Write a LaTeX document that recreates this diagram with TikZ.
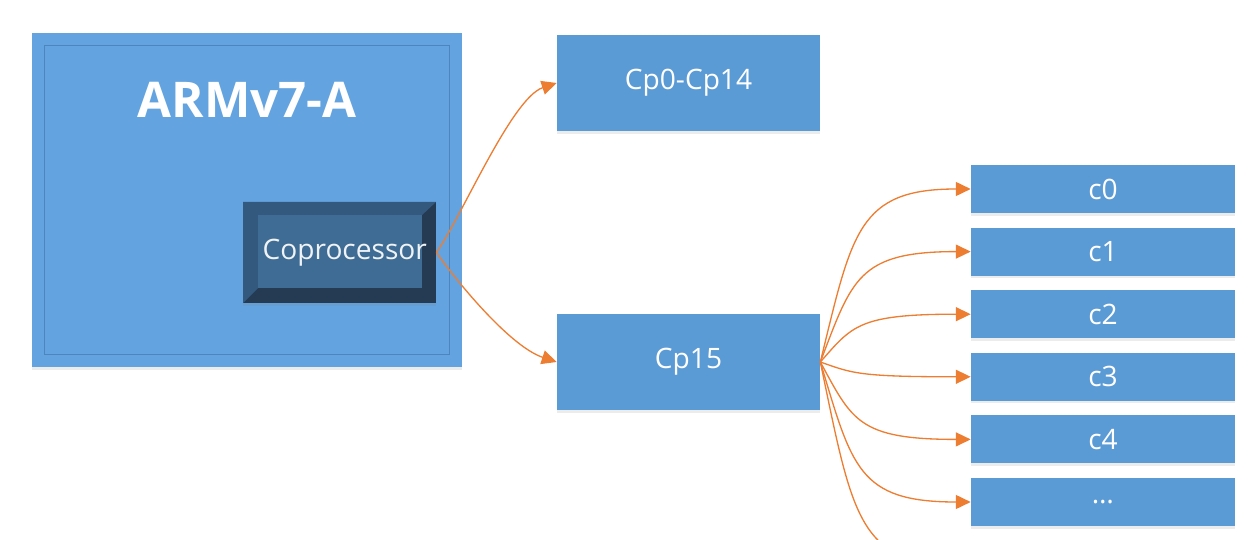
\documentclass[tikz,border=0pt]{standalone}
\usepackage{fontspec}
\setmainfont{Open Sans}
\usetikzlibrary{arrows.meta,calc,shadows}

\definecolor{armblue}{HTML}{63A4E0}
\definecolor{armedge}{HTML}{4C86BD}
\definecolor{regblue}{HTML}{5B9BD5}
\definecolor{linkorange}{HTML}{ED7D31}
\definecolor{bevelface}{HTML}{3F6C94}
\definecolor{bevellight}{HTML}{34597F}
\definecolor{beveldark}{HTML}{243B53}

\begin{document}
\begin{tikzpicture}[x=0.02cm,y=-0.02cm]
  \tikzset{>={Triangle[length=8.5pt,width=8pt]}}
  \tikzset{
    softshadow/.style={drop shadow={opacity=.15,shadow xshift=0pt,shadow yshift=-1.5pt}},
    regbox/.style={rectangle,fill=regblue,text=white,inner sep=0pt,
      minimum width=5.26cm,minimum height=1.92cm,
      font=\fontsize{16}{19}\selectfont,softshadow},
    subbox/.style={regbox,minimum width=5.28cm,minimum height=0.96cm},
    link/.style={->,linkorange,line width=0.75pt}
  }
  % the page, one pixel of the reference is one unit
  \useasboundingbox (0,0) rectangle (1250,540);
  \clip (0,0) rectangle (1250,540);

  % processor block with its inner frame line
  \node[rectangle,fill=armblue,inner sep=0pt,minimum width=8.62cm,
    minimum height=6.68cm,softshadow] (armv7) at (247,200) {};
  \draw[armedge,line width=0.5pt] (44,45) rectangle (449,354);
  \node[text=white,font=\fontsize{28}{33}\selectfont\bfseries] (title)
    at (247,100) {ARMv7-A};

  % bevelled coprocessor button
  \fill[beveldark,softshadow] (243,202) rectangle (436,303);
  \fill[bevellight] (243,202) -- (436,202) -- (422,215) -- (258,215)
    -- (258,288) -- (243,303) -- cycle;
  \fill[bevelface] (258,215) rectangle (422,288);
  \node[inner sep=0pt,minimum width=3.86cm,minimum height=2.02cm,
    text=white!92!bevelface,font=\fontsize{16}{19}\selectfont] (copro)
    at (339.5,252.5) {\hspace{6pt}Coprocessor};

  % coprocessor numbers
  \node[regbox] (cp014) at (688.5,83) {Cp0-Cp14};
  \node[regbox] (cp15) at (688.5,362) {Cp15};

  \draw[link] (copro.east) .. controls +(25,-35) and +(-45,15) .. (cp014.west);
  \draw[link] (copro.east) .. controls +(25,35) and +(-45,-15) .. (cp15.west);

  % registers of cp15, the last one runs off the page
  \foreach \name [count=\i from 0] in {c0,c1,c2,c3,c4,\ldots,{}} {
    \node[subbox] (c\i) at (1103,189+62.6*\i) {\name};
  }

  % fan of curved connectors, all leaning on x = 852
  \coordinate (fan) at (852,362);
  \foreach \i in {0,...,6} {
    \path ($(cp15.east)!.75!(c\i.west)$) coordinate (q);
    \draw[link] (cp15.east) .. controls (fan |- q)
      and ($(fan |- c\i.west)!.05!(c\i.west)$) .. (c\i.west);
  }
\end{tikzpicture}
\end{document}
